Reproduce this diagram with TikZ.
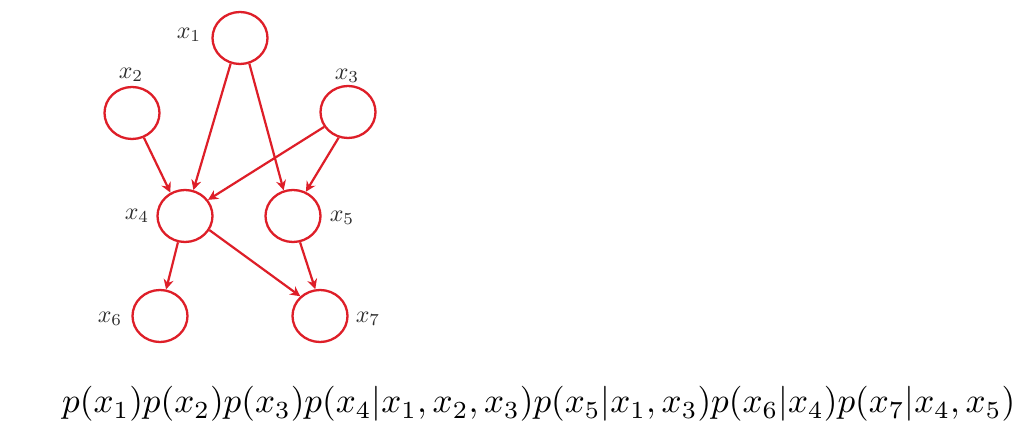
\documentclass[tikz,border=0pt]{standalone}
\usepackage{graphicx}
\usetikzlibrary{shapes.geometric,arrows.meta}
\definecolor{netred}{RGB}{222,30,40}
\definecolor{labgray}{RGB}{45,45,45}
\newcommand{\biglab}[1]{\scalebox{2.4}{$#1$}}
\begin{document}
\begin{tikzpicture}[x=1pt,y=-1pt,
  var/.style={draw=netred,line width=2.3pt,ellipse,minimum width=55pt,minimum height=52pt,inner sep=0pt},
  lab/.style={text=labgray,inner sep=0pt},
  edge/.style={draw=netred,line width=2.2pt,-{Stealth[length=10pt,width=10pt]}}]
\useasboundingbox[fill=white] (0,0) rectangle (1024,427);
\node[var] (x1) at (240,38) {};
\node[var] (x2) at (132,113) {};
\node[var] (x3) at (348,112) {};
\node[var] (x4) at (185,216) {};
\node[var] (x5) at (293,216) {};
\node[var] (x6) at (160,316) {};
\node[var] (x7) at (320,316) {};
\node[lab] (l1) at (189,35) {\biglab{x_1}};
\node[lab] (l2) at (131,75) {\biglab{x_2}};
\node[lab] (l3) at (347,76) {\biglab{x_3}};
\node[lab] (l4) at (137,216) {\biglab{x_4}};
\node[lab] (l5) at (342,218) {\biglab{x_5}};
\node[lab] (l6) at (110,319) {\biglab{x_6}};
\node[lab] (l7) at (368,319) {\biglab{x_7}};
\draw[edge] (x1.250) -- (x4.72);
\draw[edge] (x1.290) -- (x5.110);
\draw[edge] (x2) -- (x4.122);
\draw[edge] (x3.212) -- (x4.35);
\draw[edge] (x3.250) -- (x5.62);
\draw[edge] (x4.255) -- (x6.77);
\draw[edge] (x4.330) -- (x7.135);
\draw[edge] (x5.285) -- (x7.100);
\node[inner sep=0pt,anchor=west] (f) at (62,404) {\resizebox{953pt}{!}{$p(x_1)p(x_2)p(x_3)p(x_4|x_1,x_2,x_3)p(x_5|x_1,x_3)p(x_6|x_4)p(x_7|x_4,x_5)$}};
\end{tikzpicture}
\end{document}
